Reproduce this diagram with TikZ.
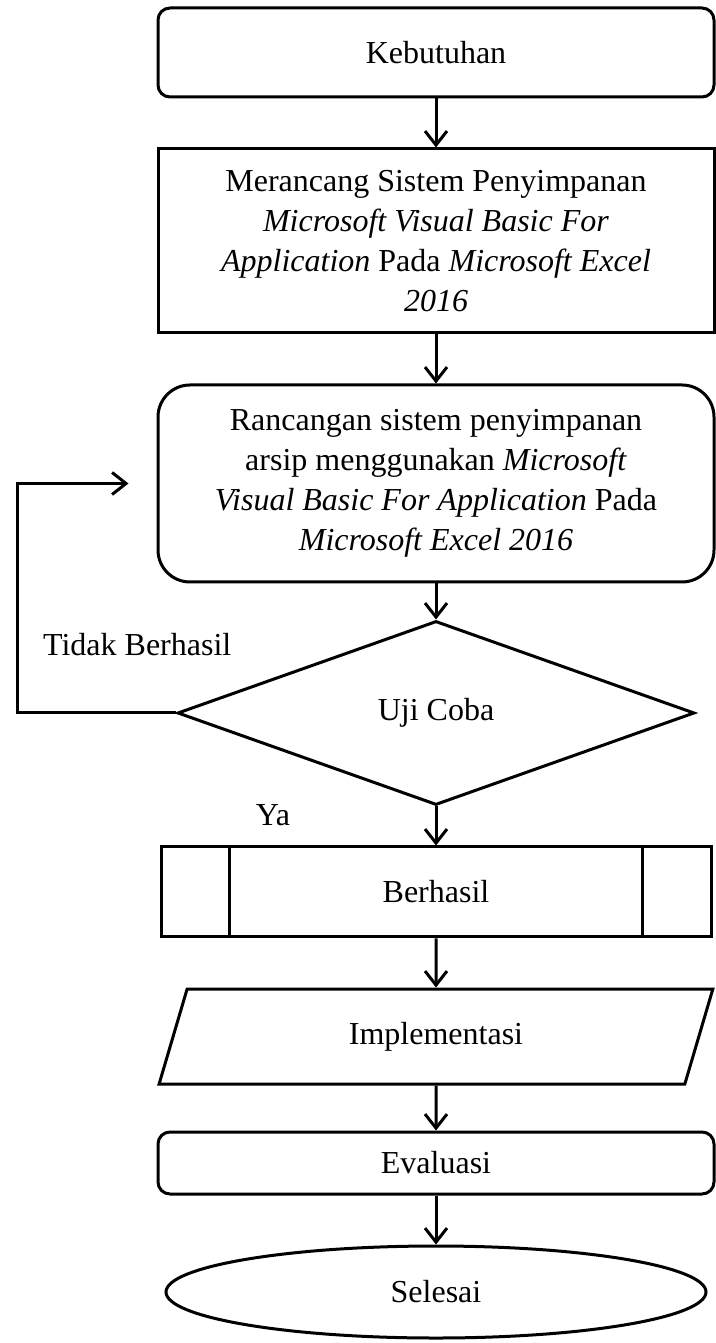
\documentclass[tikz,border=0pt]{standalone}
\usepackage{fontspec}
\setmainfont{Liberation Serif}
\usetikzlibrary{shapes.geometric, positioning, arrows.meta}
\tikzset{
    node distance=25pt,
    every node/.style={font=\fontsize{16}{20}\selectfont, align=center},
    startbox/.style={draw, rounded corners=6pt, minimum width=278pt},
    procbox/.style={draw, minimum width=278pt},
    roundproc/.style={draw, rounded corners=16pt, minimum width=278pt, minimum height=98.5pt},
    decision/.style={draw, diamond, aspect=2.8, inner sep=0pt, minimum width=258.5pt, minimum height=92pt},
    predef/.style={draw, minimum width=275pt, minimum height=45pt},
    iobox/.style={draw, trapezium, trapezium left angle=76, trapezium right angle=104,
        trapezium stretches=true, minimum width=277pt, minimum height=47.5pt},
    endbox/.style={draw, ellipse, minimum width=270pt, minimum height=46pt},
}

\begin{document}
\begin{tikzpicture}[line width=1.5pt, >={Straight Barb[length=7pt,width=11pt]}]
                \useasboundingbox (0,0) rectangle (358pt,671.5pt);
                \node[startbox, minimum height=44.5pt] (keb) at (218pt,645.25pt) {Kebutuhan};
                \node[procbox, minimum height=92pt, below=24.5pt of keb] (rancang)
                    {Merancang Sistem Penyimpanan\\ \textit{Microsoft Visual Basic For}\\
                     \textit{Application} Pada \textit{Microsoft Excel}\\ \textit{2016}};
                \node[roundproc, below=24.5pt of rancang] (rancangan)
                    {Rancangan sistem penyimpanan\\ arsip menggunakan \textit{Microsoft}\\
                     \textit{Visual Basic For Application} Pada\\ \textit{Microsoft Excel 2016}};
                \node[decision, below=18pt of rancangan] (uji) {Uji Coba};
                \node[predef, below=19.5pt of uji] (hasil) {Berhasil};
                \node[iobox, below=24.5pt of hasil] (impl) {Implementasi};
                \node[startbox, minimum height=31pt, below=22.5pt of impl] (eval) {Evaluasi};
                \node[endbox, below=24.5pt of eval] (selesai) {Selesai};

                \node[anchor=west] (tidak) at (17.5pt,349pt) {Tidak Berhasil};
                \node (ya) at (136.5pt,264pt) {Ya};

                \draw ([xshift=35pt]hasil.north west) -- ([xshift=35pt]hasil.south west)
                      ([xshift=-35pt]hasil.north east) -- ([xshift=-35pt]hasil.south east);

                \coordinate (fbx) at (8.5pt,0);
                \coordinate (fbend) at ([xshift=-14pt]rancangan.west);

                \draw[->] (keb) edge (rancang)
                      (rancang) edge (rancangan)
                      (rancangan) edge (uji)
                      (uji) edge (hasil)
                      (hasil) edge (impl)
                      (impl) edge (eval)
                      (eval) edge (selesai)
                ;
                \draw[->] (uji.west) -- (uji.west -| fbx) |- (fbend);
            \end{tikzpicture}
\end{document}
